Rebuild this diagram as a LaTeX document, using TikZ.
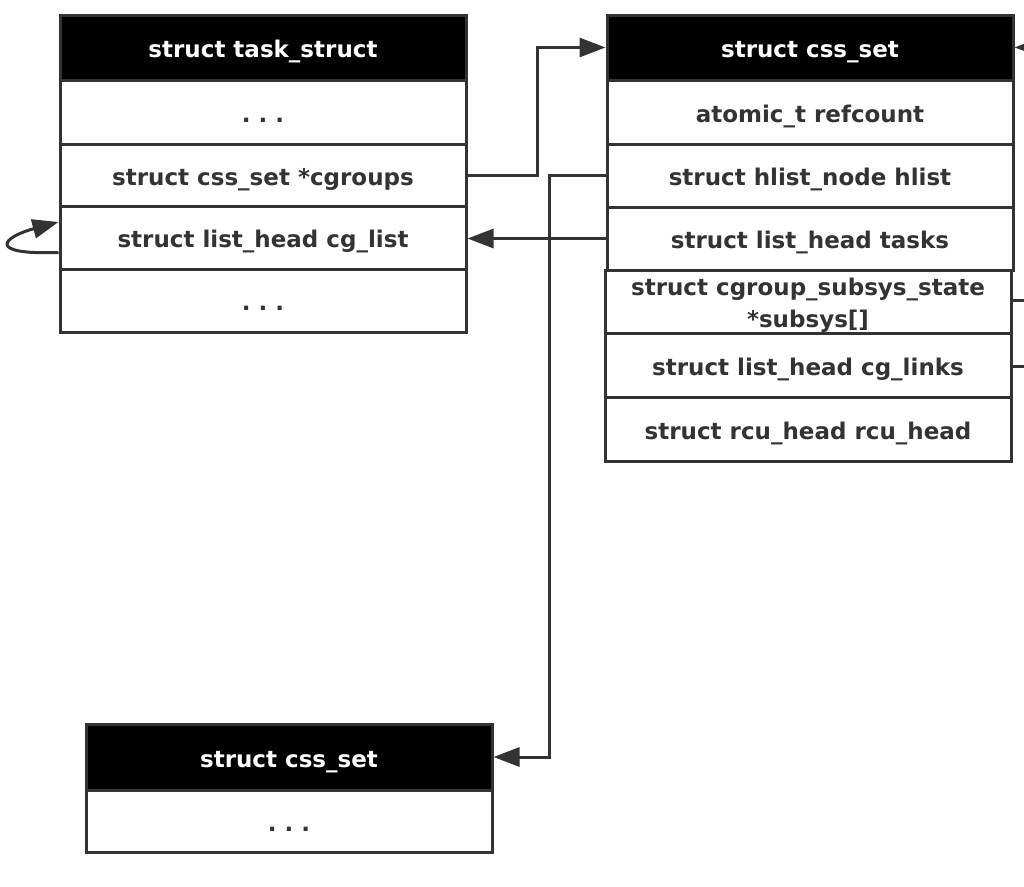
\documentclass[tikz,border=0pt]{standalone}
\usepackage{fontspec}
\setmainfont{DejaVu Sans}
\usetikzlibrary{arrows.meta}
\definecolor{ln}{HTML}{333333}
\tikzset{
  x=1pt,y=-1pt,
  cell/.style={draw=ln,line width=3pt,fill=white,minimum width=406pt,inner sep=0pt,
    text height=22pt,text depth=2pt,
    font=\fontsize{23}{32}\selectfont\bfseries,text=ln},
  hdr/.style={cell,fill=black,text=white},
  conn/.style={draw=ln,line width=3pt,-{Triangle[length=26pt,width=19pt]}},
  plain/.style={draw=ln,line width=3pt},
}
\newcommand{\dotsrow}{.\hspace{0.35em}.\hspace{0.35em}.}
\begin{document}
\begin{tikzpicture}
\useasboundingbox (0,0) rectangle (1024,886);
\fill[white] (0,0) rectangle (1024,886);
% task_struct
\node[hdr,minimum height=65pt] (th) at (263,47.5) {struct task\_struct};
\node[cell,minimum height=64pt] (t1) at (263,112) {\dotsrow};
\node[cell,minimum height=62pt] (t2) at (263,175) {struct css\_set *cgroups};
\node[cell,minimum height=63pt] (t3) at (263,237.5) {struct list\_head cg\_list};
\node[cell,minimum height=63pt] (t4) at (263,300.5) {\dotsrow};
% css_set (right)
\node[hdr,minimum height=65pt] (ch) at (810,47.5) {struct css\_set};
\node[cell,minimum height=64pt] (c1) at (810,112) {atomic\_t refcount};
\node[cell,minimum height=63pt] (c2) at (810,175.5) {struct hlist\_node hlist};
\node[cell,minimum height=63pt] (c3) at (810,238.5) {struct list\_head tasks};
\node[cell,minimum height=63pt,text height=,text depth=] (c4) at (808,301.5) {\raisebox{-4pt}[\height][\depth]{\parbox{380pt}{\centering struct cgroup\_subsys\_state\\[0pt]*subsys[]}}};
\node[cell,minimum height=64pt] (c5) at (808,365) {struct list\_head cg\_links};
\node[cell,minimum height=64pt] (c6) at (808,429) {struct rcu\_head rcu\_head};
% css_set (bottom)
\node[hdr,minimum height=66pt] (bh) at (289,757) {struct css\_set};
\node[cell,minimum height=62pt] (b1) at (289,821) {\dotsrow};
% free ends at the right edge
\coordinate (r0) at (1045,47);
\coordinate (r1) at (1030,300);
\coordinate (r2) at (1030,366);
% connectors
\draw[conn] (t2.east) -- (537,175) |- (ch.west);
\draw[conn] (c2.west) -- (549,175.5) |- (bh.east);
\draw[conn] (c3.west) -- (t3.east |- c3.west);
\draw[conn] ([yshift=-15pt]t3.west) .. controls (-15,255) and (3,237) .. ([yshift=15.5pt]t3.west);
\draw[conn] (r0) -- (ch.east);
\draw[plain] (c4.east |- r1) -- (r1);
\draw[plain] (c5.east |- r2) -- (r2);
\end{tikzpicture}
\end{document}
